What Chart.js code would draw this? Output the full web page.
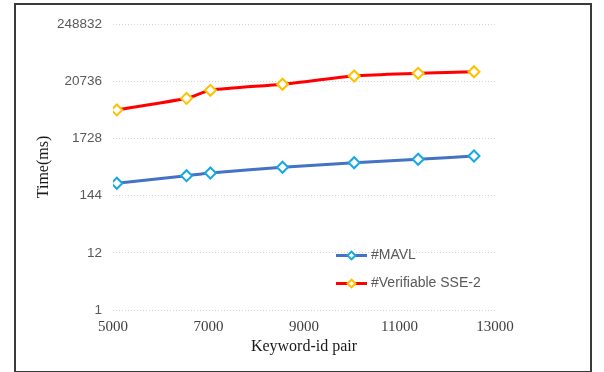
<!DOCTYPE html>
<html>
<head>
<meta charset="utf-8">
<script src="https://cdn.jsdelivr.net/npm/chart.js@4/dist/chart.umd.min.js"></script>
<style>
  html, body { margin: 0; padding: 0; background: #fff; }
  #wrap { position: relative; width: 604px; height: 372px; }
  #frame {
    position: absolute; left: 14px; top: 3px; width: 574px; height: 366px;
    border: 2px solid #3a3a3a; pointer-events: none;
  }
</style>
</head>
<body>
<div id="wrap">
  <canvas id="myChart" width="604" height="372"></canvas>
  <div id="frame"></div>
</div>
<script>
let pairCounts = [5080, 6540, 7040, 8550, 10050, 11390, 12560];
let mavlTimes = [246, 342, 384, 494, 601, 698, 805];
let sseTimes = [5950, 9850, 13960, 18140, 26000, 29200, 31300];
let yTicks = [1, 12, 144, 1728, 20736, 248832];
let xTicks = [5000, 7000, 9000, 11000, 13000];
let seriesNames = ["#MAVL", "#Verifiable SSE-2"];

function toPoints(values) {
  return pairCounts.map((x, i) => ({ x: x, y: values[i] }));
}

// legend drawn inside the plot, like the office-style original
let insideLegend = {
  id: "insideLegend",
  afterDraw(chart) {
    let ctx = chart.ctx;
    let rows = [255.5, 283.5];
    chart.data.datasets.forEach((ds, i) => {
      let y = rows[i];
      ctx.save();
      ctx.strokeStyle = ds.borderColor;
      ctx.lineWidth = 3;
      ctx.beginPath();
      ctx.moveTo(336, y);
      ctx.lineTo(367, y);
      ctx.stroke();
      ctx.translate(351.5, y);
      ctx.rotate(Math.PI / 4);
      ctx.fillStyle = "#fff";
      ctx.strokeStyle = ds.pointBorderColor;
      ctx.lineWidth = 2;
      ctx.fillRect(-2.8, -2.8, 5.6, 5.6);
      ctx.strokeRect(-2.8, -2.8, 5.6, 5.6);
      ctx.restore();
      ctx.save();
      ctx.fillStyle = "#595959";
      ctx.font = "14px 'Liberation Sans'";
      ctx.textBaseline = "middle";
      ctx.fillText(ds.label, 371, y);
      ctx.restore();
    });
  },
};

let chart = new Chart(document.getElementById("myChart"), {
  type: "line",
  data: {
    datasets: [
      {
        label: seriesNames[0],
        data: toPoints(mavlTimes),
        borderColor: "#4472C4",
        borderWidth: 3,
        pointStyle: "rectRot",
        pointRadius: 5.5,
        pointBorderWidth: 2,
        pointBorderColor: "#17A7E6",
        pointBackgroundColor: "#ffffff",
        tension: 0.25,
      },
      {
        label: seriesNames[1],
        data: toPoints(sseTimes),
        borderColor: "#FF0000",
        borderWidth: 3,
        pointStyle: "rectRot",
        pointRadius: 5.5,
        pointBorderWidth: 2,
        pointBorderColor: "#FFC000",
        pointBackgroundColor: "#ffffff",
        tension: 0.25,
      },
    ],
  },
  options: {
    responsive: false,
    animation: false,
    layout: { padding: { left: 0, right: 109, top: 24, bottom: 0 } },
    plugins: { legend: { display: false }, tooltip: { enabled: false } },
    scales: {
      x: {
        type: "linear",
        min: 5000,
        max: 13000,
        afterFit(scale) { scale.height = 62; },
        afterBuildTicks(scale) { scale.ticks = xTicks.map((v) => ({ value: v })); },
        grid: { display: false, drawTicks: false },
        border: { display: false },
        ticks: {
          color: "#404040",
          padding: 8,
          font: { family: "'Liberation Serif'", size: 15 },
          callback: (v) => String(v),
        },
        title: {
          display: true,
          text: "Keyword-id pair",
          color: "#1a1a1a",
          font: { family: "'Liberation Serif'", size: 16 },
          padding: { top: 0, bottom: 16 },
        },
      },
      y: {
        type: "logarithmic",
        min: 1,
        max: 248832,
        afterFit(scale) { scale.width = 113; },
        afterBuildTicks(scale) { scale.ticks = yTicks.map((v) => ({ value: v })); },
        grid: {
          color: "#d4d4d4",
          lineWidth: 1,
          drawTicks: false,
        },
        border: { display: false, dash: [1, 2] },
        ticks: {
          color: "#595959",
          padding: 11,
          font: { family: "'Liberation Sans'", size: 13.5 },
          callback: (v) => String(v),
        },
        title: {
          display: true,
          text: "Time(ms)",
          color: "#1a1a1a",
          font: { family: "'Liberation Serif'", size: 16 },
          padding: { top: 34, bottom: 0 },
        },
      },
    },
  },
  plugins: [insideLegend],
});
</script>
</body>
</html>
